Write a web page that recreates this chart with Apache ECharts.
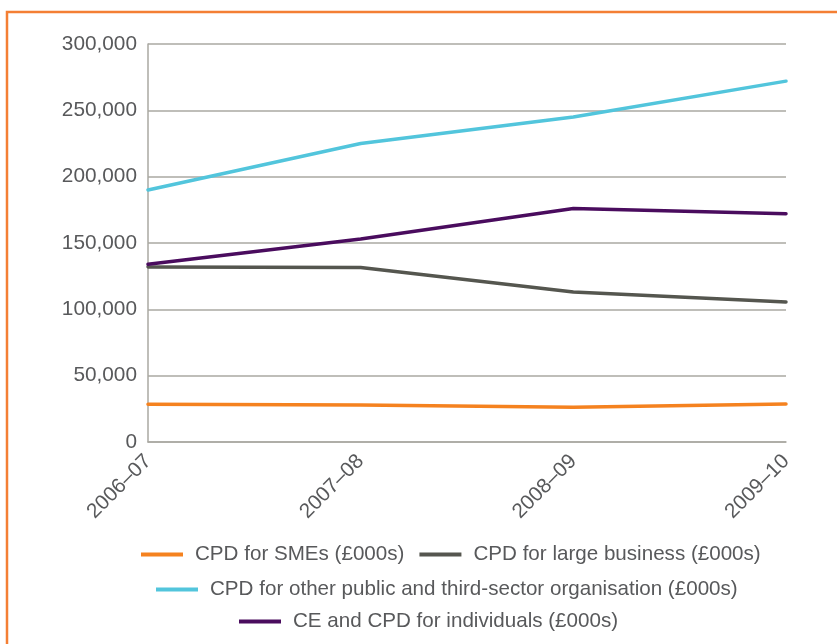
<!DOCTYPE html>
<html>
<head>
<meta charset="utf-8">
<title>CPD income by sector</title>
<script src="https://cdn.jsdelivr.net/npm/echarts@6/dist/echarts.min.js"></script>
<style>
  html, body { margin: 0; padding: 0; background: #ffffff; }
  #chart { width: 837px; height: 644px; }
</style>
</head>
<body>
<div id="chart"></div>
<script>
// Academic years on the category axis
const years = ['2006–07', '2007–08', '2008–09', '2009–10'];

// Income per activity (£000s)
const smes = [28400, 27900, 26100, 28600];
const largeBusiness = [132000, 131500, 113000, 105500];
const publicThirdSector = [190000, 225000, 245000, 272000];
const individuals = [134000, 153000, 176000, 172000];

// Value axis ticks
const yTicks = [0, 50000, 100000, 150000, 200000, 250000, 300000];

const names = [
  'CPD for SMEs (£000s)',
  'CPD for large business (£000s)',
  'CPD for other public and third-sector organisation (£000s)',
  'CE and CPD for individuals (£000s)'
];
const colors = ['#f5821f', '#55564f', '#52c5dc', '#4a0c5e'];
const textColor = '#58595b';
const gridColor = '#aaa9a2';
const font = 'Liberation Sans, Arial, sans-serif';

function fmt(v) {
  return String(v).replace(/\B(?=(\d{3})+(?!\d))/g, ',');
}

const legendCommon = {
  icon: 'rect',
  itemWidth: 42,
  itemHeight: 4,
  itemGap: 15,
  selectedMode: false,
  padding: 0,
  textStyle: {
    color: textColor,
    fontFamily: font,
    fontSize: 20.6,
    padding: [0, 0, 0, 7]
  }
};

const chart = echarts.init(document.getElementById('chart'), null, { renderer: 'canvas' });

const seriesData = [smes, largeBusiness, publicThirdSector, individuals];

chart.setOption({
  animation: false,
  backgroundColor: '#ffffff',
  graphic: [{
    type: 'rect',
    shape: { x: 7, y: 12, width: 900, height: 700 },
    style: { fill: 'none', stroke: '#f47f34', lineWidth: 2.5 },
    silent: true
  }],
  grid: { left: 148, right: 51, top: 44, bottom: 202, containLabel: false },
  legend: [
    Object.assign({}, legendCommon, { data: [names[0], names[1]], left: 141, top: 544 }),
    Object.assign({}, legendCommon, { data: [names[2]], left: 156, top: 579 }),
    Object.assign({}, legendCommon, { data: [names[3]], left: 239, top: 611 })
  ],
  xAxis: {
    type: 'category',
    data: years,
    boundaryGap: false,
    axisLine: { lineStyle: { color: gridColor, width: 1.5 } },
    axisTick: { show: false },
    axisLabel: {
      rotate: 45,
      margin: 16,
      color: textColor,
      fontFamily: font,
      fontSize: 20.8
    },
    splitLine: { show: false }
  },
  yAxis: {
    type: 'value',
    min: yTicks[0],
    max: yTicks[yTicks.length - 1],
    interval: yTicks[1] - yTicks[0],
    axisLine: { show: true, lineStyle: { color: gridColor, width: 1.5 } },
    axisTick: { show: false },
    axisLabel: {
      margin: 11,
      color: textColor,
      fontFamily: font,
      fontSize: 20.8,
      formatter: fmt
    },
    splitLine: { show: true, lineStyle: { color: gridColor, width: 1.5 } }
  },
  series: names.map((n, i) => ({
    name: n,
    type: 'line',
    data: seriesData[i],
    symbol: 'none',
    color: colors[i],
    lineStyle: { width: 3.5, color: colors[i], cap: 'round', join: 'round' },
    z: 2 + (i === 1 ? 0 : 1)
  }))
});
</script>
</body>
</html>
